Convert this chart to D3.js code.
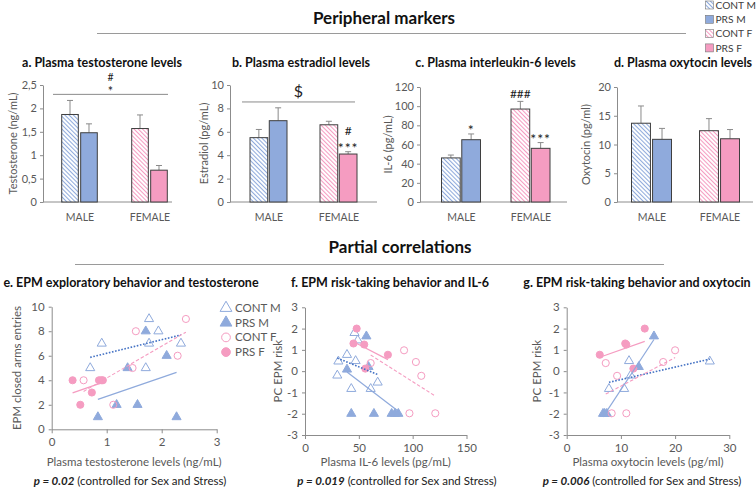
<!DOCTYPE html>
<html><head><meta charset="utf-8">
<script src="https://cdn.jsdelivr.net/npm/d3@7"></script>
<style>
body{margin:0;background:#fff}
svg text{font-family:Lato,"Open Sans",sans-serif}
</style>
</head><body>
<svg id="c" width="756" height="487"></svg>
<script>
// ---------- DATA ----------
const groups = ["MALE", "FEMALE"];
const seriesNames = ["CONT M", "PRS M", "CONT F", "PRS F"];

const testoMean = [1.87, 1.48, 1.57, 0.68];
const testoErrTop = [2.17, 1.67, 1.86, 0.78];
const testoTicks = [0, 0.5, 1, 1.5, 2, 2.5];

const estraMean = [5.5, 6.95, 6.6, 4.1];
const estraErrTop = [6.2, 8.05, 6.9, 4.3];
const estraTicks = [0, 2, 4, 6, 8, 10];

const il6Mean = [46, 65, 97, 56];
const il6ErrTop = [49, 71, 105, 62];
const il6Ticks = [0, 20, 40, 60, 80, 100, 120];

const oxyMean = [13.7, 10.9, 12.4, 11.0];
const oxyErrTop = [16.7, 12.8, 14.5, 12.6];
const oxyTicks = [0, 5, 10, 15, 20];

// scatter e: testosterone (x) vs closed arms entries (y)
const eContM = [[0.70,5],[0.91,7],[1.71,5],[1.77,7],[1.77,9],[1.94,8],[2.35,7]];
const ePrsM  = [[0.84,1],[1.18,2],[1.56,2],[1.38,5],[1.71,8],[2.09,6],[2.27,1]];
const eContF = [[0.58,4],[1.12,2],[1.47,5],[1.53,8],[2.29,6],[2.44,9]];
const ePrsF  = [[0.38,4],[0.52,2],[0.73,3],[0.86,4],[0.90,4],[0.93,4]];
const eXTicks = [0, 1, 2, 3];
const eYTicks = [0, 2, 4, 6, 8, 10];

// scatter f: IL-6 (x) vs PC EPM risk (y)
const fContM = [[46,1.8],[49,1.45],[39,0.77],[31,0.46],[47,0.48],[30,-0.2],[43,-0.83],[61,-0.83],[67.5,-0.53]];
const fPrsM  = [[57,1.64],[39,0.08],[59,0.2],[43,-2],[64,-2],[80.5,-2],[83.6,-2],[86.7,-2]];
const fContF = [[61,0.38],[92,0.98],[103,0.43],[108,-0.22],[97,-1.98],[121,-1.98]];
const fPrsF  = [[48,2.0],[45,1.3],[55,1.25],[77,0.77],[56,0.12]];
const fXTicks = [0, 50, 100, 150];
const riskTicks = [-3, -2, -1, 0, 1, 2, 3];

// scatter g: oxytocin (x) vs PC EPM risk (y)
const gContM = [[11.5,0.48],[7.8,-0.83],[10.6,-0.83],[11.8,-0.2],[26.4,0.46]];
const gPrsM  = [[6.7,-2],[7.0,-2],[7.4,-2],[13.3,0.2],[16.1,1.64]];
const gContF = [[7.2,0.38],[9.3,-0.22],[17.8,0.43],[20,0.98],[8.3,-1.98],[11.0,-1.98]];
const gPrsF  = [[6.1,0.77],[10.8,1.3],[11.0,1.25],[14.4,2.0],[12.3,0.12]];
const gXTicks = [0, 10, 20, 30];

const pValues = ["0.02", "0.019", "0.006"];

// ---------- STYLE ----------
const BLUE = "#8FAADC", BLUE_DARK = "#4472C4", PINK = "#F59CC1";
const AXIS = "#8C8C8C", LABEL = "#595959";

const svg = d3.select("#c");
const defs = svg.append("defs");
function hatch(id, color) {
  const p = defs.append("pattern").attr("id", id).attr("patternUnits", "userSpaceOnUse")
    .attr("width", 3).attr("height", 3).attr("patternTransform", "rotate(-45)");
  p.append("rect").attr("width", 3).attr("height", 3).attr("fill", "#fff");
  p.append("line").attr("x1", 0.5).attr("y1", 0).attr("x2", 0.5).attr("y2", 3)
    .attr("stroke", color).attr("stroke-width", 1.1);
}
hatch("hb", BLUE); hatch("hp", PINK);
const barFill = ["url(#hb)", BLUE, "url(#hp)", PINK];

// ---------- SECTION TITLES ----------
function section(txt, y, lineY, x1, x2, cx) {
  svg.append("text").attr("x", cx).attr("y", y).attr("text-anchor", "middle")
    .attr("font-size", 17).attr("font-weight", 700).attr("fill", "#111").text(txt);
  svg.append("line").attr("x1", x1).attr("x2", x2).attr("y1", lineY).attr("y2", lineY)
    .attr("stroke", "#9a9a9a").attr("stroke-width", 1.2);
}
section("Peripheral markers", 24, 33.5, 97, 686, 384);
section("Partial correlations", 253, 264.5, 75, 664, 400);

// top legend
const lg = svg.append("g");
seriesNames.forEach((s, i) => {
  const yy = 5 + i * 14.3;
  lg.append("rect").attr("x", 705.5).attr("y", yy - 4).attr("width", 8).attr("height", 8)
    .attr("fill", barFill[i]).attr("stroke", "#777").attr("stroke-width", 0.6);
  lg.append("text").attr("x", 715.5).attr("y", yy + 3.8).attr("font-size", 10.2).attr("fill", "#404040").text(s);
});

// ---------- BAR PANELS ----------
function fmtComma(d) { return String(d).replace(".", ","); }

function barPanel(cfg, means, errTop, ticks, annots) {
  const g = svg.append("g");
  const y = d3.scaleLinear().domain([0, d3.max(ticks)]).range([cfg.bottom, cfg.top]);
  const gx = d3.scalePoint().domain(groups).range(cfg.centers);
  const inner = d3.scaleBand().domain(["CONT", "PRS"])
    .range([-(cfg.barW + cfg.gap / 2), cfg.barW + cfg.gap / 2]).paddingInner(cfg.gap / (2 * cfg.barW + cfg.gap));

  g.append("text").attr("x", cfg.titleX).attr("y", 67).attr("text-anchor", "middle")
    .attr("font-size", 12.5).attr("font-weight", 700).attr("fill", "#111").text(cfg.title);

  const ax = g.append("g").attr("transform", `translate(${cfg.axisX},0)`)
    .call(d3.axisLeft(y).tickValues(ticks).tickSize(3).tickSizeOuter(0).tickFormat(fmtComma));
  ax.select(".domain").attr("stroke", AXIS);
  ax.selectAll(".tick line").attr("stroke", AXIS);
  ax.selectAll(".tick text").attr("fill", LABEL).attr("font-size", 11).attr("font-family", "Lato").attr("x", -6);

  g.append("line").attr("x1", cfg.axisX).attr("x2", cfg.right).attr("y1", y(0)).attr("y2", y(0)).attr("stroke", AXIS);
  const xa = g.append("g").attr("transform", `translate(0,${y(0)})`)
    .call(d3.axisBottom(gx).tickSize(0).tickPadding(12));
  xa.select(".domain").remove();
  xa.selectAll("text").attr("fill", LABEL).attr("font-size", 10.5).attr("font-family", "Lato");

  g.append("text").attr("transform", `translate(${cfg.labelX},${(y(0) + y(d3.max(ticks))) / 2}) rotate(-90)`)
    .attr("text-anchor", "middle").attr("dy", "0.35em").attr("font-size", 11).attr("fill", LABEL).text(cfg.ylabel);

  const bars = means.map((m, i) => ({ m, e: errTop[i], grp: groups[Math.floor(i / 2)], s: i % 2 ? "PRS" : "CONT", i }));
  bars.forEach(b => {
    const x0 = gx(b.grp) + inner(b.s);
    const w = inner.bandwidth();
    g.append("line").attr("x1", x0 + w / 2).attr("x2", x0 + w / 2).attr("y1", y(b.m)).attr("y2", y(b.e))
      .attr("stroke", "#8a8a8a").attr("stroke-width", 1);
    g.append("line").attr("x1", x0 + w / 2 - 3).attr("x2", x0 + w / 2 + 3).attr("y1", y(b.e)).attr("y2", y(b.e))
      .attr("stroke", "#8a8a8a").attr("stroke-width", 1);
    g.append("rect").attr("x", x0).attr("y", y(b.m)).attr("width", w).attr("height", y(0) - y(b.m))
      .attr("fill", barFill[b.i]).attr("stroke", "#3f3f3f").attr("stroke-width", 1);
  });

  (annots.bracket ? [annots.bracket] : []).forEach(br => {
    const cx = (br.x1 + br.x2) / 2;
    g.append("line").attr("x1", br.x1).attr("x2", br.x2).attr("y1", y(br.v)).attr("y2", y(br.v))
      .attr("stroke", "#8a8a8a").attr("stroke-width", 1);
    if (br.marks.length === 1) {
      g.append("text").attr("x", cx).attr("y", y(br.v) - 5).attr("text-anchor", "middle")
        .attr("font-size", br.size || 11).attr("fill", "#222").text(br.marks[0]);
    } else {
      g.append("text").attr("x", cx).attr("y", y(br.v) - 13).attr("text-anchor", "middle")
        .attr("font-size", 10.5).attr("fill", "#222").text(br.marks[0]);
      g.append("text").attr("x", cx).attr("y", y(br.v) + 2).attr("text-anchor", "middle")
        .attr("font-size", 12.5).attr("fill", "#222").text(br.marks[1]);
    }
  });
  (annots.over || []).forEach(o => {
    const b = bars[o.i];
    const xc = gx(b.grp) + inner(b.s) + inner.bandwidth() / 2;
    o.marks.forEach((t, k) => {
      const isStar = t.startsWith("*");
      const off = (o.marks.length - 1 - k);
      g.append("text").attr("x", xc).attr("y", y(b.e) + (isStar ? 1.5 : -3) - off * 13.5)
        .attr("text-anchor", "middle").attr("font-size", isStar ? 14 : 12).attr("letter-spacing", isStar ? 1 : 0)
        .attr("fill", "#222").text(t);
    });
  });
}

barPanel({ title: "a. Plasma testosterone levels", titleX: 102, axisX: 43, right: 172, top: 85, bottom: 202,
  centers: [79.5, 149.5], barW: 15.6, gap: 4.4, labelX: 13, ylabel: "Testosterone (ng/mL)" },
  testoMean, testoErrTop, testoTicks, { bracket: { v: 2.3, x1: 53, x2: 168, marks: ["#", "*"] } });

barPanel({ title: "b. Plasma estradiol levels", titleX: 301, axisX: 230, right: 377, top: 85, bottom: 202,
  centers: [268.5, 338.5], barW: 17, gap: 3, labelX: 204, ylabel: "Estradiol (pg/mL)" },
  estraMean, estraErrTop, estraTicks, { bracket: { v: 8.55, x1: 242, x2: 355, marks: ["$"], size: 16 },
    over: [{ i: 3, marks: ["#", "***"] }] });

barPanel({ title: "c. Plasma interleukin-6 levels", titleX: 495.5, axisX: 420, right: 567, top: 87, bottom: 202,
  centers: [461, 530.5], barW: 18, gap: 3, labelX: 388, ylabel: "IL-6 (pg/mL)" },
  il6Mean, il6ErrTop, il6Ticks, { over: [{ i: 1, marks: ["*"] }, { i: 2, marks: ["###"] }, { i: 3, marks: ["***"] }] });

barPanel({ title: "d. Plasma oxytocin levels", titleX: 683, axisX: 617, right: 753, top: 87, bottom: 202,
  centers: [651.5, 719.5], barW: 18, gap: 4, labelX: 586, ylabel: "Oxytocin (pg/ml)" },
  oxyMean, oxyErrTop, oxyTicks, {});

// ---------- SCATTER PANELS ----------
function regression(pts) {
  const mx = d3.mean(pts, p => p[0]), my = d3.mean(pts, p => p[1]);
  let sxy = 0, sxx = 0;
  pts.forEach(p => { sxy += (p[0] - mx) * (p[1] - my); sxx += (p[0] - mx) ** 2; });
  const b = sxy / sxx, a = my - b * mx;
  const [x1, x2] = d3.extent(pts, p => p[0]);
  return [[x1, a + b * x1], [x2, a + b * x2]];
}
const seriesStyle = [
  { shape: "tri", filled: false, color: BLUE, line: { stroke: BLUE_DARK, w: 1.6, dash: "1.6,1.6" } },
  { shape: "tri", filled: true, color: BLUE, line: { stroke: BLUE, w: 1.2, dash: null } },
  { shape: "circ", filled: false, color: PINK, line: { stroke: PINK, w: 1.1, dash: "3.5,2" } },
  { shape: "circ", filled: true, color: PINK, line: { stroke: PINK, w: 1.2, dash: null } }
];
function marker(sel, st, size) {
  if (st.shape === "tri") {
    sel.append("path").attr("d", d3.symbol(d3.symbolTriangle, size)())
      .attr("fill", st.filled ? st.color : "none").attr("stroke", st.color).attr("stroke-width", 1);
  } else {
    sel.append("circle").attr("r", Math.sqrt(size / Math.PI))
      .attr("fill", st.filled ? st.color : "none").attr("stroke", st.color).attr("stroke-width", 1);
  }
}

function scatterPanel(cfg, sets, xTicks, yTicks, pval) {
  const g = svg.append("g");
  const x = d3.scaleLinear().domain(d3.extent(xTicks)).range(cfg.xr);
  const y = d3.scaleLinear().domain(d3.extent(yTicks)).range(cfg.yr);

  g.append("text").attr("x", cfg.titleX).attr("y", 287).attr("text-anchor", "middle")
    .attr("font-size", 12.5).attr("font-weight", 700).attr("fill", "#111").text(cfg.title);

  const ya = g.append("g").attr("transform", `translate(${cfg.xr[0]},0)`)
    .call(d3.axisLeft(y).tickValues(yTicks).tickSize(3).tickSizeOuter(0).tickFormat(d => String(d)));
  const xa = g.append("g").attr("transform", `translate(0,${cfg.yr[0]})`)
    .call(d3.axisBottom(x).tickValues(xTicks).tickSize(4).tickSizeOuter(0).tickPadding(5).tickFormat(d => String(d)));
  [ya, xa].forEach(a => {
    a.select(".domain").attr("stroke", AXIS);
    a.selectAll(".tick line").attr("stroke", AXIS);
    a.selectAll(".tick text").attr("fill", LABEL).attr("font-size", 11.5).attr("font-family", "Lato");
  });
  ya.selectAll(".tick text").attr("x", -7);

  g.append("text").attr("x", (cfg.xr[0] + cfg.xr[1]) / 2).attr("y", 466).attr("text-anchor", "middle")
    .attr("font-size", 11.5).attr("fill", LABEL).text(cfg.xlabel);
  g.append("text").attr("transform", `translate(${cfg.labelX},${(cfg.yr[0] + cfg.yr[1]) / 2}) rotate(-90)`)
    .attr("text-anchor", "middle").attr("dy", "0.35em").attr("font-size", 11.5).attr("fill", LABEL).text(cfg.ylabel);

  const pt = g.append("text").attr("x", cfg.pX).attr("y", 485).attr("text-anchor", "middle")
    .attr("font-size", 11.5).attr("fill", "#222");
  pt.append("tspan").attr("font-weight", 700).attr("font-style", "italic").text("p = " + pval);
  pt.append("tspan").text(" (controlled for Sex and Stress)");

  sets.forEach((pts, i) => {
    const st = seriesStyle[i];
    pts.forEach(p => {
      const m = g.append("g").attr("transform", `translate(${x(p[0])},${y(p[1])})`);
      marker(m, st, st.shape === "tri" ? 36 : 40);
    });
  });
  sets.forEach((pts, i) => {
    const st = seriesStyle[i];
    const r = regression(pts);
    g.append("line").attr("x1", x(r[0][0])).attr("y1", y(r[0][1])).attr("x2", x(r[1][0])).attr("y2", y(r[1][1]))
      .attr("stroke", st.line.stroke).attr("stroke-width", st.line.w).attr("stroke-dasharray", st.line.dash);
  });
}

scatterPanel({ title: "e. EPM exploratory behavior and testosterone", titleX: 131, xr: [51.7, 216.7], yr: [429.3, 306.7],
  xlabel: "Plasma testosterone levels (ng/mL)", ylabel: "EPM closed arms entries", labelX: 17, pX: 130 },
  [eContM, ePrsM, eContF, ePrsF], eXTicks, eYTicks, pValues[0]);

scatterPanel({ title: "f. EPM risk-taking behavior and IL-6", titleX: 390, xr: [305, 466.5], yr: [435, 307.3],
  xlabel: "Plasma IL-6 levels (pg/mL)", ylabel: "PC EPM risk", labelX: 278, pX: 397 },
  [fContM, fPrsM, fContF, fPrsF], fXTicks, riskTicks, pValues[1]);

scatterPanel({ title: "g. EPM risk-taking behavior and oxytocin", titleX: 637, xr: [566.7, 729.3], yr: [435, 307.3],
  xlabel: "Plasma oxytocin levels (pg/ml)", ylabel: "PC EPM risk", labelX: 537, pX: 642 },
  [gContM, gPrsM, gContF, gPrsF], gXTicks, riskTicks, pValues[2]);

// scatter legend (panel e)
const sl = svg.append("g");
seriesNames.forEach((s, i) => {
  const yy = 308 + i * 14.7;
  const m = sl.append("g").attr("transform", `translate(226,${yy})`);
  marker(m, seriesStyle[i], 60);
  sl.append("text").attr("x", 235).attr("y", yy + 4).attr("font-size", 11.5).attr("fill", LABEL).text(s);
});
</script>
</body></html>
